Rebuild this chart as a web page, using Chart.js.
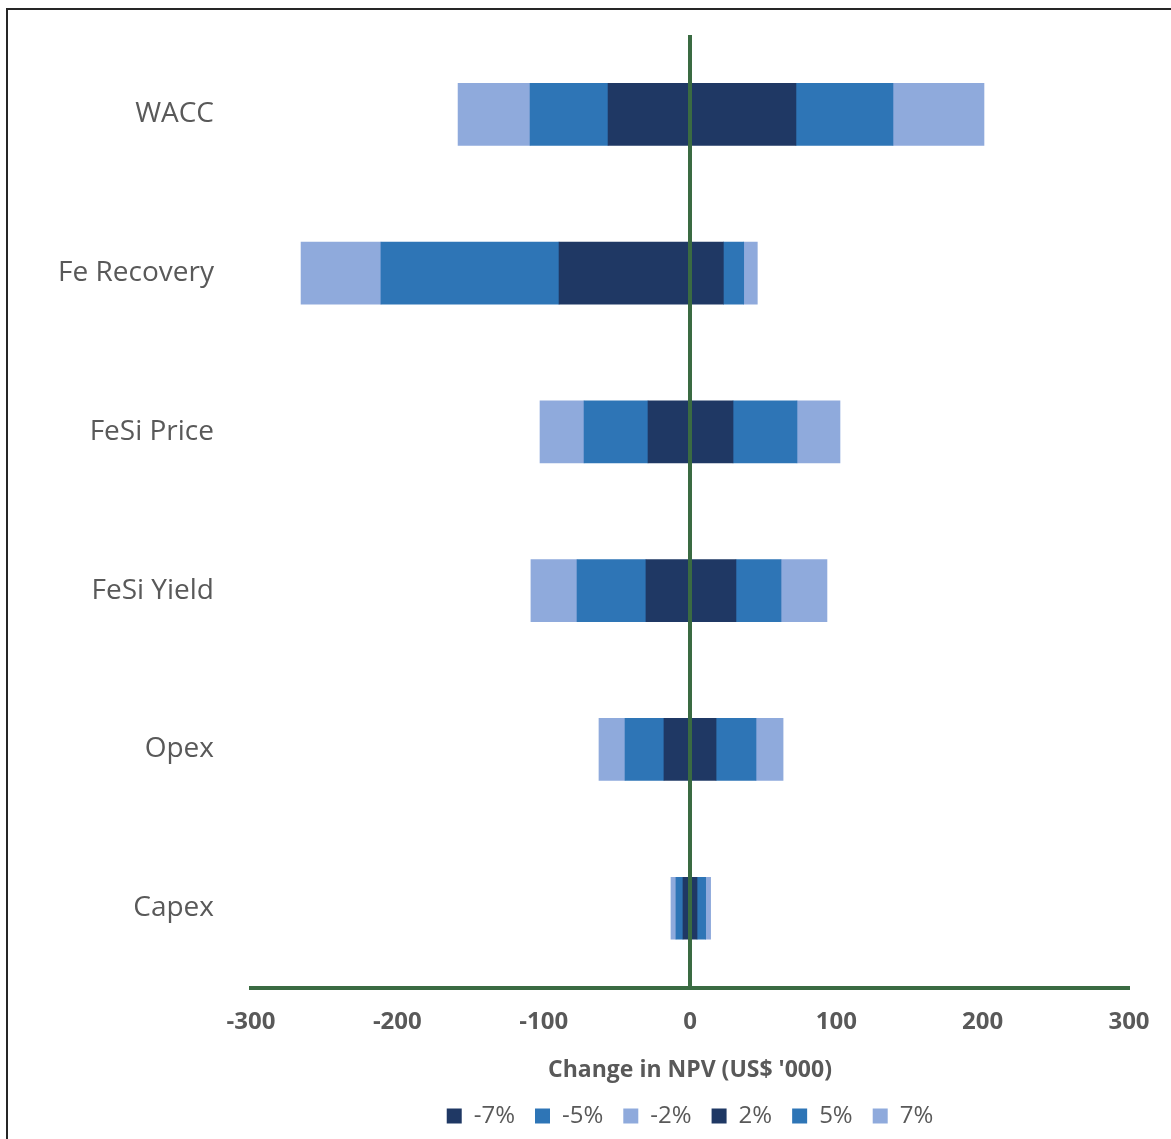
<!DOCTYPE html>
<html>
<head>
<meta charset="utf-8">
<script src="https://cdn.jsdelivr.net/npm/chart.js@4.4.1/dist/chart.umd.min.js"></script>
<style>
  html, body { margin: 0; padding: 0; background: #ffffff; }
  #wrap { position: relative; width: 1171px; height: 1139px; }
  #frame { position: absolute; left: 6px; top: 8px; width: 1200px; height: 1200px;
           border-left: 2px solid #262626; border-top: 2px solid #262626; box-sizing: border-box; }
  canvas { position: absolute; left: 0; top: 0; }
</style>
</head>
<body>
<div id="wrap">
  <div id="frame"></div>
  <canvas id="chart" width="1171" height="1139"></canvas>
</div>
<script>
// Sensitivity drivers, top to bottom
const categories = ['WACC', 'Fe Recovery', 'FeSi Price', 'FeSi Yield', 'Opex', 'Capex'];

// Change in NPV (US$ '000) reached at each scenario, cumulative from zero
const scenNeg7 = [-56, -89.5, -28.7, -30.1, -17.8, -4.8];
const scenNeg5 = [-109.3, -211.2, -72.4, -77.2, -44.4, -9.6];
const scenNeg2 = [-158.5, -265.8, -102.5, -108.7, -62.2, -13.0];
const scenPos2 = [72.4, 22.8, 29.4, 31.4, 17.8, 4.8];
const scenPos5 = [138.7, 36.7, 73.1, 62.2, 45.1, 10.7];
const scenPos7 = [200.9, 46.0, 102.5, 93.6, 63.6, 14.1];

const seriesLabels = ['-7%', '-5%', '-2%', '2%', '5%', '7%'];
const xTicks = [-300, -200, -100, 0, 100, 200, 300];

const NAVY = '#1F3864', MID = '#2E75B6', LIGHT = '#8FAADC';
const GREEN = '#3A6B42', GREY = '#595959';

// Each stacked segment spans from the previous scenario to the next one
const diff = (outer, inner) => outer.map((v, i) => v - (inner ? inner[i] : 0));
const segments = [
  diff(scenNeg7), diff(scenNeg5, scenNeg7), diff(scenNeg2, scenNeg5),
  diff(scenPos2), diff(scenPos5, scenPos2), diff(scenPos7, scenPos5)
];
const colours = [NAVY, MID, LIGHT, NAVY, MID, LIGHT];

const zeroLine = {
  id: 'zeroLine',
  afterDatasetsDraw(chart) {
    const { ctx, chartArea, scales } = chart;
    const x = scales.x.getPixelForValue(0);
    ctx.save();
    ctx.strokeStyle = GREEN;
    ctx.lineWidth = 4;
    ctx.beginPath();
    ctx.moveTo(x, chartArea.top);
    ctx.lineTo(x, chartArea.bottom);
    ctx.stroke();
    ctx.restore();
  }
};

new Chart(document.getElementById('chart'), {
  type: 'bar',
  data: {
    labels: categories,
    datasets: seriesLabels.map((lab, i) => ({
      label: lab,
      data: segments[i],
      backgroundColor: colours[i],
      borderWidth: 0,
      barThickness: 62
    }))
  },
  options: {
    indexAxis: 'y',
    responsive: false,
    animation: false,
    layout: { padding: { top: 35, right: 42, left: 0, bottom: 1 } },
    scales: {
      x: {
        stacked: true,
        min: -300, max: 300,
        afterBuildTicks(scale) { scale.ticks = xTicks.map(v => ({ value: v })); },
        grid: { display: false, drawTicks: false },
        border: { display: true, color: GREEN, width: 4 },
        ticks: {
          color: GREY, padding: 20,
          font: { family: 'Open Sans', size: 24, weight: 'bold' }
        },
        title: {
          display: true,
          text: "Change in NPV (US$ '000)",
          color: GREY,
          padding: { top: 0, bottom: 0 },
          font: { family: 'Open Sans', size: 23, weight: 'bold' }
        }
      },
      y: {
        stacked: true,
        afterFit(scale) {
          scale.width = 251;
          scale.paddingTop = 0;
          scale.paddingBottom = 0;
        },
        grid: { display: false, drawTicks: false },
        border: { display: false },
        ticks: {
          color: GREY, padding: 37,
          font: { family: 'Open Sans', size: 28 }
        }
      }
    },
    plugins: {
      legend: {
        position: 'bottom',
        fullSize: false,
        labels: {
          color: GREY,
          boxWidth: 15, boxHeight: 15,
          padding: 20,
          font: { family: 'Open Sans', size: 24 }
        }
      },
      tooltip: { enabled: false }
    }
  },
  plugins: [zeroLine]
});
</script>
</body>
</html>
